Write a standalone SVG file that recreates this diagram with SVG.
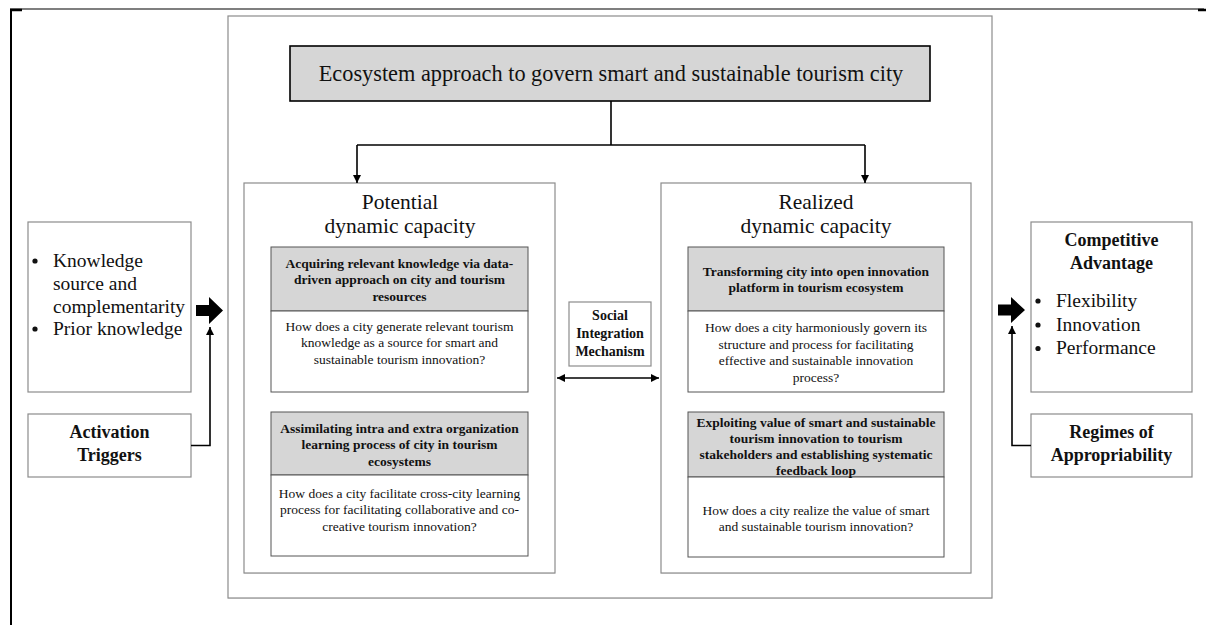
<svg xmlns="http://www.w3.org/2000/svg" width="1208" height="625" viewBox="0 0 1208 625">
  <defs>
    <marker id="tip" viewBox="0 0 10 10" refX="10" refY="5" markerWidth="8" markerHeight="8" markerUnits="userSpaceOnUse" orient="auto-start-reverse">
      <path d="M0,0 L10,5 L0,10 Z" fill="#000"/>
    </marker>
    <style>
      .frame { stroke: #000; fill: none; }
      .panel { fill: #fff; stroke: #8c8c8c; stroke-width: 1.2; }
      .box { fill: #fff; stroke: #8c8c8c; stroke-width: 1.2; }
      .head { fill: #d6d6d6; stroke: #555; stroke-width: 1; }
      .body { fill: #fff; stroke: #555; stroke-width: 1; }
      .title { fill: #d6d6d6; stroke: #000; stroke-width: 1.6; }
      .link { fill: none; stroke: #000; stroke-width: 1.6; }
      .big { fill: #000; }
      text { font-family: "Liberation Serif", "Times New Roman", serif; fill: #111; }
      .t-main { font-size: 22.3px; text-anchor: middle; }
      .t-cap { font-size: 21.5px; text-anchor: middle; }
      .t-hd { font-size: 13.5px; font-weight: bold; text-anchor: middle; }
      .t-q { font-size: 13.5px; text-anchor: middle; }
      .t-list { font-size: 19.5px; }
      .t-lbl { font-size: 18px; font-weight: bold; text-anchor: middle; }
      .t-sm { font-size: 14px; font-weight: bold; text-anchor: middle; }
    </style>
  </defs>

  <!-- page frame -->
  <g id="page-frame">
    <line class="frame" x1="10" y1="9" x2="1204" y2="9" stroke-width="1.2"/>
    <line class="frame" x1="11" y1="9" x2="11" y2="625" stroke-width="2"/>
    <line class="frame" x1="10" y1="10" x2="22" y2="10" stroke-width="2.5"/>
    <line class="frame" x1="1198" y1="10" x2="1206" y2="10" stroke-width="2.5"/>
  </g>

  <!-- central container -->
  <g id="ecosystem-container">
    <rect class="panel" x="228" y="16" width="764" height="582"/>
    <line x1="228" y1="598.5" x2="992" y2="598.5" stroke="#b0b0b0" stroke-width="1"/>
  </g>

  <g id="title">
    <rect class="title" x="290" y="46" width="640" height="55"/>
    <text class="t-main" x="611" y="81">Ecosystem approach to govern smart and sustainable tourism city</text>
  </g>

  <!-- potential capacity panel -->
  <g id="potential">
    <rect class="panel" x="244" y="183" width="311" height="390"/>
    <line x1="244" y1="573.5" x2="555" y2="573.5" stroke="#b0b0b0" stroke-width="1"/>
    <text class="t-cap" x="400" y="209">Potential</text>
    <text class="t-cap" x="400" y="233">dynamic capacity</text>
  </g>

  <g id="acquire">
    <rect class="head" x="271" y="247" width="257" height="64"/>
    <rect class="body" x="271" y="311" width="257" height="81"/>
    <text class="t-hd" x="399.5" y="267.5">Acquiring relevant knowledge via data-</text>
    <text class="t-hd" x="399.5" y="284">driven approach on city and tourism</text>
    <text class="t-hd" x="399.5" y="300.5">resources</text>
    <text class="t-q" x="399.5" y="330.5">How does a city generate relevant tourism</text>
    <text class="t-q" x="399.5" y="347">knowledge as a source for smart and</text>
    <text class="t-q" x="399.5" y="363.5">sustainable tourism innovation?</text>
  </g>

  <g id="assimilate">
    <rect class="head" x="271" y="412" width="257" height="63"/>
    <rect class="body" x="271" y="475" width="257" height="81"/>
    <text class="t-hd" x="399.5" y="432.5">Assimilating intra and extra organization</text>
    <text class="t-hd" x="399.5" y="449">learning process of city in tourism</text>
    <text class="t-hd" x="399.5" y="465.5">ecosystems</text>
    <text class="t-q" x="399.5" y="497.5">How does a city facilitate cross-city learning</text>
    <text class="t-q" x="399.5" y="514">process for facilitating collaborative and co-</text>
    <text class="t-q" x="399.5" y="530.5">creative tourism innovation?</text>
  </g>

  <!-- realized capacity panel -->
  <g id="realized">
    <rect class="panel" x="661" y="183" width="310" height="390"/>
    <line x1="661" y1="573.5" x2="971" y2="573.5" stroke="#b0b0b0" stroke-width="1"/>
    <text class="t-cap" x="816" y="209">Realized</text>
    <text class="t-cap" x="816" y="233">dynamic capacity</text>
  </g>

  <g id="transform">
    <rect class="head" x="688" y="247" width="256" height="64"/>
    <rect class="body" x="688" y="311" width="256" height="81"/>
    <text class="t-hd" x="816" y="275.5">Transforming city into open innovation</text>
    <text class="t-hd" x="816" y="292">platform in tourism ecosystem</text>
    <text class="t-q" x="816" y="332">How does a city harmoniously govern its</text>
    <text class="t-q" x="816" y="348.5">structure and process for facilitating</text>
    <text class="t-q" x="816" y="365">effective and sustainable innovation</text>
    <text class="t-q" x="816" y="381.5">process?</text>
  </g>

  <g id="exploit">
    <rect class="head" x="688" y="412" width="256" height="65"/>
    <rect class="body" x="688" y="477" width="256" height="80"/>
    <text class="t-hd" x="816" y="427">Exploiting value of smart and sustainable</text>
    <text class="t-hd" x="816" y="443">tourism innovation to tourism</text>
    <text class="t-hd" x="816" y="459">stakeholders and establishing systematic</text>
    <text class="t-hd" x="816" y="475">feedback loop</text>
    <text class="t-q" x="816" y="514.5">How does a city realize the value of smart</text>
    <text class="t-q" x="816" y="531">and sustainable tourism innovation?</text>
  </g>

  <g id="social-integration">
    <rect class="box" x="569" y="302" width="82" height="64"/>
    <text class="t-sm" x="610" y="320">Social</text>
    <text class="t-sm" x="610" y="338">Integration</text>
    <text class="t-sm" x="610" y="356">Mechanism</text>
  </g>

  <!-- antecedents -->
  <g id="knowledge-source">
    <rect class="box" x="28" y="222" width="163" height="170"/>
    <circle cx="35" cy="261" r="2.6" fill="#111"/>
    <circle cx="35" cy="329" r="2.6" fill="#111"/>
    <text class="t-list" x="53" y="267">Knowledge</text>
    <text class="t-list" x="53" y="290">source and</text>
    <text class="t-list" x="53" y="312.5">complementarity</text>
    <text class="t-list" x="53" y="335">Prior knowledge</text>
  </g>

  <g id="activation-triggers">
    <rect class="box" x="28" y="414" width="163" height="63"/>
    <text class="t-lbl" x="109.5" y="437.5">Activation</text>
    <text class="t-lbl" x="109.5" y="460.5">Triggers</text>
  </g>

  <!-- outcomes -->
  <g id="competitive-advantage">
    <rect class="box" x="1031" y="222" width="161" height="170"/>
    <text class="t-lbl" x="1111.5" y="246">Competitive</text>
    <text class="t-lbl" x="1111.5" y="269">Advantage</text>
    <circle cx="1038" cy="301" r="2.6" fill="#111"/>
    <circle cx="1038" cy="325" r="2.6" fill="#111"/>
    <circle cx="1038" cy="348.5" r="2.6" fill="#111"/>
    <text class="t-list" x="1056" y="306.5">Flexibility</text>
    <text class="t-list" x="1056" y="330.5">Innovation</text>
    <text class="t-list" x="1056" y="354">Performance</text>
  </g>

  <g id="appropriability">
    <rect class="box" x="1031" y="414" width="161" height="63"/>
    <text class="t-lbl" x="1111.5" y="437.5">Regimes of</text>
    <text class="t-lbl" x="1111.5" y="460.5">Appropriability</text>
  </g>

  <!-- connectors -->
  <g id="connectors">
    <path class="link" d="M611,101 V145"/>
    <path class="link" d="M357,145 H865"/>
    <path class="link" d="M357,145 V183" marker-end="url(#tip)"/>
    <path class="link" d="M865,145 V183" marker-end="url(#tip)"/>
    <path class="link" d="M557,378 H659" stroke-width="1.4" marker-start="url(#tip)" marker-end="url(#tip)"/>
    <path class="link" d="M191,445.5 H210 V327" marker-end="url(#tip)"/>
    <path class="link" d="M1031,445.5 H1012 V326" marker-end="url(#tip)"/>
    <polygon class="big" points="196,305 209,305 209,297 223,310.5 209,324 209,316 196,316"/>
    <polygon class="big" points="998,304.5 1011,304.5 1011,297 1025,310 1011,323 1011,315.5 998,315.5"/>
  </g>
</svg>
